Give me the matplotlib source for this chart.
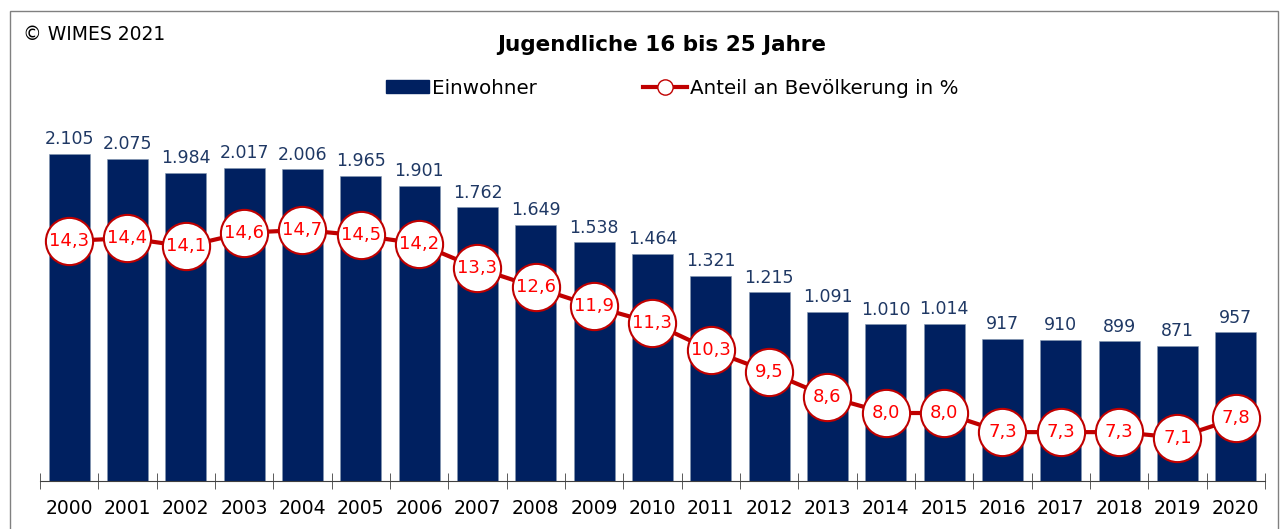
import matplotlib.pyplot as plt
from matplotlib.patches import Rectangle
from matplotlib.lines import Line2D
from matplotlib.patches import Patch

years = [str(y) for y in range(2000, 2021)]
einwohner = [2105, 2075, 1984, 2017, 2006, 1965, 1901, 1762, 1649, 1538, 1464,
             1321, 1215, 1091, 1010, 1014, 917, 910, 899, 871, 957]
anteil = [14.3, 14.4, 14.1, 14.6, 14.7, 14.5, 14.2, 13.3, 12.6, 11.9, 11.3,
          10.3, 9.5, 8.6, 8.0, 8.0, 7.3, 7.3, 7.3, 7.1, 7.8]

NAVY = "#002060"
LABEL_NAVY = "#1f3864"
DARKRED = "#c00000"
RED = "#ff0000"

plt.rcParams["font.family"] = ["DejaVu Sans"]

fig = plt.figure(figsize=(12.82, 5.29), dpi=100)
ax = fig.add_axes([0.0312, 0.0907, 0.9555, 0.7203])
x = list(range(len(years)))

ax.bar(x, einwohner, width=0.7, color=NAVY, edgecolor="#8497b0", linewidth=0.4, zorder=2)
ax.set_xlim(-0.5, len(years) - 0.5)
ax.set_ylim(0, 2453)
for xi, v in zip(x, einwohner):
    lbl = "{:,}".format(v).replace(",", ".")
    ax.annotate(lbl, (xi, v), xytext=(0, 4), textcoords="offset points",
                ha="center", va="bottom", fontsize=12.5, color=LABEL_NAVY)

for s in ["top", "right", "left"]:
    ax.spines[s].set_visible(False)
ax.spines["bottom"].set_color("#404040")
ax.set_yticks([])
ax.set_xticks(x)
ax.set_xticklabels(years, fontsize=13.5)
ax.tick_params(axis="x", which="major", length=0, pad=13)
ax.set_xticks([i - 0.5 for i in range(len(years) + 1)], minor=True)
ax.tick_params(axis="x", which="minor", direction="inout", length=12, color="#404040")

ax2 = ax.twinx()
ax2.set_ylim(5.51, 19.46)
ax2.plot(x, anteil, color=DARKRED, lw=3, marker="o", markersize=34,
         markerfacecolor="white", markeredgecolor=DARKRED, markeredgewidth=1.5, zorder=3)
for xi, v in zip(x, anteil):
    ax2.text(xi, v, "{:.1f}".format(v).replace(".", ","), ha="center", va="center",
             fontsize=13, color=RED, zorder=4)
ax2.set_yticks([])
for s in ax2.spines.values():
    s.set_visible(False)

fig.text(662 / 1282, 1 - 45 / 529, "Jugendliche 16 bis 25 Jahre", ha="center", va="center",
         fontsize=15.5, fontweight="bold")
fig.text(23 / 1282, 1 - 35 / 529, "\u00a9 WIMES 2021", ha="left", va="center", fontsize=13.5)

handles = [Patch(facecolor=NAVY, edgecolor=NAVY),
           Line2D([0], [0], color=DARKRED, lw=3, marker="o", markersize=11,
                  markerfacecolor="white", markeredgecolor=DARKRED)]
fig.legend(handles, ["Einwohner", "Anteil an Bevölkerung in %"], loc="center",
           bbox_to_anchor=(672 / 1282, 1 - 88 / 529), ncol=2, frameon=False, fontsize=14.3,
           handlelength=2.2, handletextpad=0.15, columnspacing=5.35, handleheight=0.6)

fig.add_artist(Rectangle((10 / 1282, -0.05), 1268 / 1282, 1.05 - 11 / 529,
                         transform=fig.transFigure, fill=False, edgecolor="#808080", lw=1))

fig.savefig("out.png", dpi=100)
